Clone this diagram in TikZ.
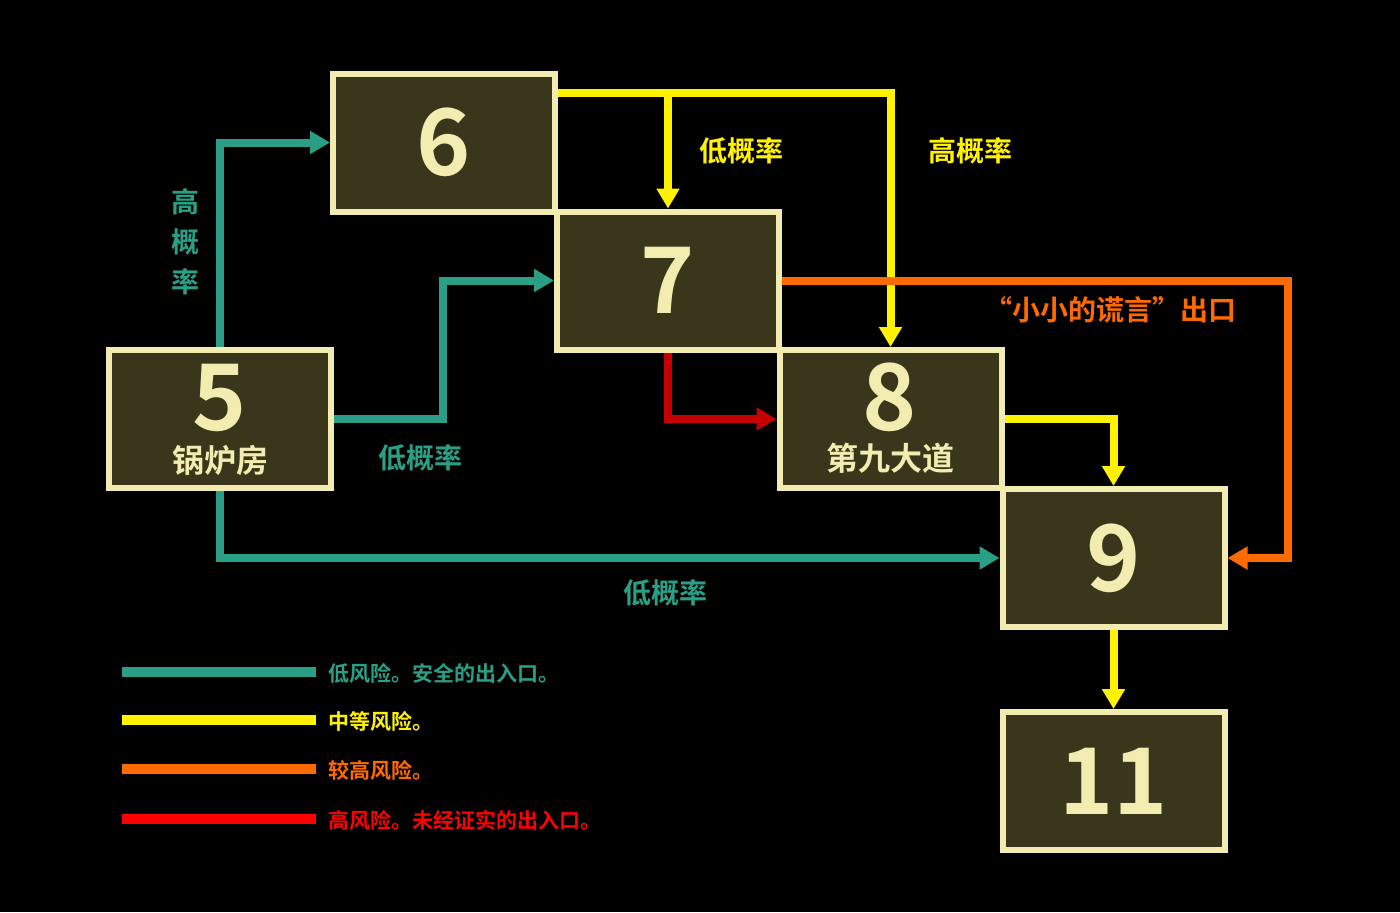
\documentclass[tikz,border=0pt]{standalone}
\usepackage{fontspec}
\setmainfont{Noto Sans CJK SC}[BoldFont={* Bold}]
\newfontfamily\cjk{Noto Sans CJK SC}[UprightFont={* Bold}]
\usetikzlibrary{arrows.meta,calc}
\definecolor{teal}{HTML}{2A9F86}
\definecolor{yel}{HTML}{FFF200}
\definecolor{ora}{HTML}{FF6A00}
\definecolor{dred}{HTML}{C40000}
\definecolor{lred}{HTML}{FF0000}
\definecolor{cream}{HTML}{F3ECB0}
\definecolor{olive}{HTML}{3A361C}
\begin{document}
\begin{tikzpicture}[x=0.5pt,y=-0.5pt,
  box/.style={draw=cream,fill=olive,line width=3pt,minimum width=111pt,minimum height=69pt,inner sep=0pt,text=cream,font=\cjk},
  num/.style={font=\cjk\fontsize{46}{46}\selectfont},
  con/.style={line width=4pt,-{Triangle[length=10pt,width=11pt]}},
  lbl/.style={font=\cjk\fontsize{14}{14}\selectfont},
  leg/.style={font=\cjk\fontsize{10.5}{10.5}\selectfont,anchor=west,inner sep=0pt}]
\fill[black] (0,0) rectangle (1400,912);
\node[box] (n6) at (444,142.5) {\fontsize{46}{46}\selectfont 6};
\node[box] (n7) at (668,280.5) {\fontsize{46}{46}\selectfont 7};
\node[box] (n5) at (220,418.5) {};
\node[num,text=cream] (t5) at (220,398) {5};
\node[lbl,text=cream,font=\cjk\fontsize{16}{16}\selectfont] (c5) at (220,460) {锅炉房};
\node[box] (n8) at (890.5,419) {};
\node[num,text=cream] (t8) at (890,397) {8};
\node[lbl,text=cream,font=\cjk\fontsize{16}{16}\selectfont] (c8) at (890,458) {第九大道};
\node[box] (n9) at (1113.5,558) {\fontsize{46}{46}\selectfont 9};
\node[box] (n11) at (1113.5,781) {\fontsize{46}{46}\selectfont 11};
% teal
\draw[con,teal] (n5.north) |- (n6.west);
\draw[con,teal] (n5.east) -- (443,418.5) |- (n7.west);
\draw[con,teal] (n5.south) |- (n9.west);
% yellow
\coordinate (y0) at (558,93);
\coordinate (y1) at (668,93);
\draw[con,yel] (y0) -| (n8.north);
\draw[con,yel] (y1) -- (n7.north);
\draw[con,yel] (n8.east) -| (n9.north);
\draw[con,yel] (n9.south) -- (n11.north);
% orange
\coordinate (o1) at (1288,280.5);
\draw[con,ora] (n7.east) -- (o1) |- (n9.east);
% red
\draw[con,dred] (n7.south) |- (n8.west);
% labels
\node[lbl,text=teal,align=center,font=\cjk\fontsize{14}{20}\selectfont] (l1) at (185,242) {高\\概\\率};
\node[lbl,text=teal] (l2) at (420,458) {低概率};
\node[lbl,text=teal] (l3) at (665,593) {低概率};
\node[lbl,text=yel] (l4) at (741,151) {低概率};
\node[lbl,text=yel] (l5) at (970,151) {高概率};
\node[lbl,text=ora] (l6) at (1110,310) {“小小的谎言”出口};
% legend
\coordinate (a1) at (122,672); \coordinate (b1) at (316,672);
\coordinate (a2) at (122,720); \coordinate (b2) at (316,720);
\coordinate (a3) at (122,769); \coordinate (b3) at (316,769);
\coordinate (a4) at (122,819); \coordinate (b4) at (316,819);
\draw[teal,line width=5pt] (a1) -- (b1);
\draw[yel,line width=5pt] (a2) -- (b2);
\draw[ora,line width=5pt] (a3) -- (b3);
\draw[lred,line width=5pt] (a4) -- (b4);
\node[leg,text=teal] (g1) at (328,673) {低风险。安全的出入口。};
\node[leg,text=yel] (g2) at (328,721) {中等风险。};
\node[leg,text=ora] (g3) at (328,770) {较高风险。};
\node[leg,text=lred] (g4) at (328,820) {高风险。未经证实的出入口。};
\end{tikzpicture}
\end{document}
